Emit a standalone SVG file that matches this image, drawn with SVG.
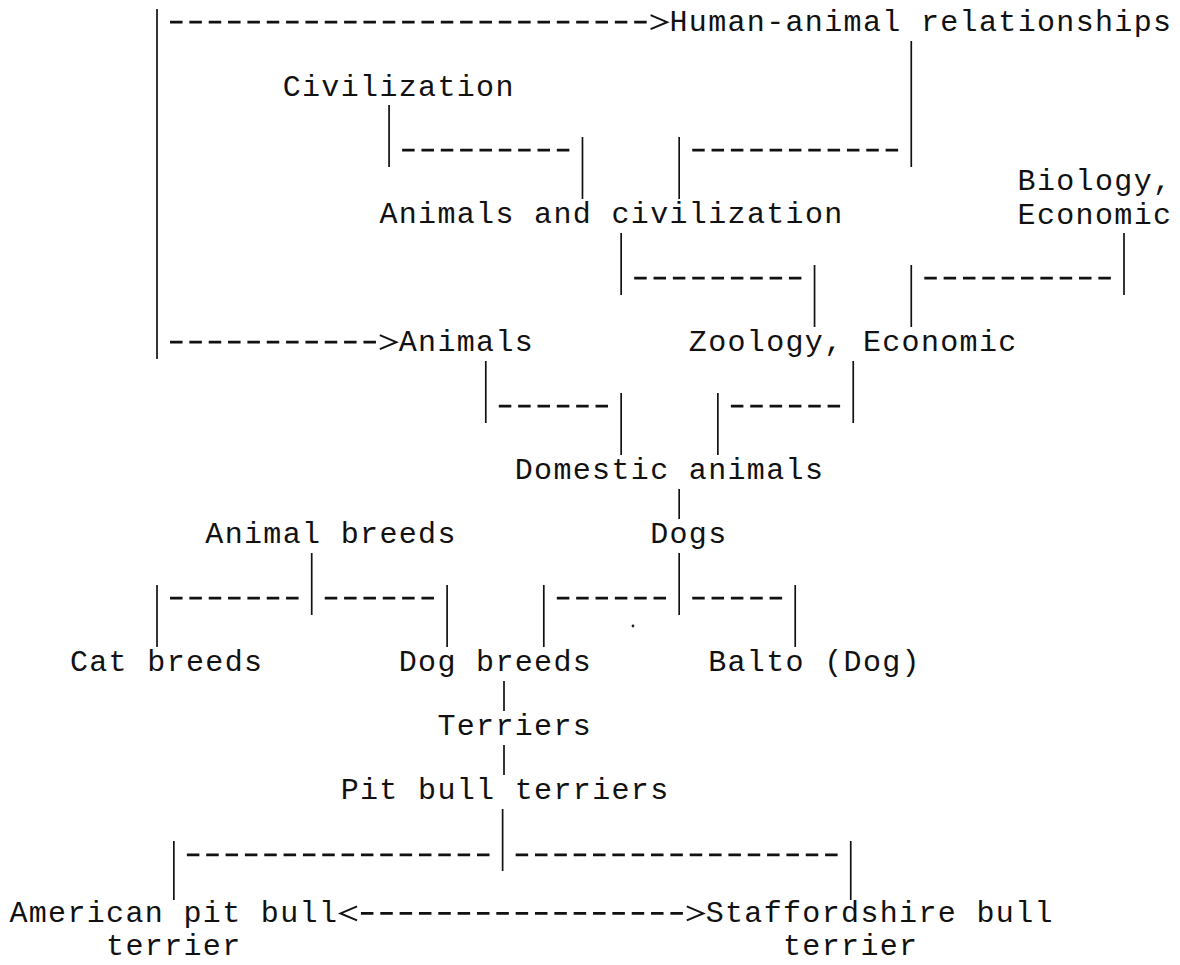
<svg xmlns="http://www.w3.org/2000/svg" width="1180" height="965" viewBox="0 0 1180 965">
<style>
  .t { font-family: "Liberation Mono", "DejaVu Sans Mono", monospace; font-size: 30px; letter-spacing: 1.34px; fill: #111; }
  .bar { stroke: #111; stroke-width: 1.7; fill: none; }
  .dash { stroke: #111; stroke-width: 2.8; stroke-dasharray: 12.5 6.84; fill: none; }
  .arr { marker-end: url(#chev); }
  .arr2 { marker-start: url(#chev); marker-end: url(#chev); }
</style>
<defs>
  <marker id="chev" markerUnits="userSpaceOnUse" viewBox="0 -10 24 20" refX="0" refY="0" markerWidth="24" markerHeight="20" orient="auto-start-reverse" overflow="visible">
    <polyline points="3.9,-7 20.4,0 3.9,7" fill="none" stroke="#111" stroke-width="2"/>
  </marker>
</defs>
<rect width="1180" height="965" fill="#fff"/>

<g id="connectors">
  <!-- vertical bars -->
  <line class="bar" x1="157" y1="9" x2="157" y2="359"/>
  <line class="bar" x1="911.26" y1="41" x2="911.26" y2="167"/>
  <line class="bar" x1="389.08" y1="105" x2="389.08" y2="167"/>
  <line class="bar" x1="582.48" y1="137" x2="582.48" y2="199"/>
  <line class="bar" x1="679.18" y1="137" x2="679.18" y2="199"/>
  <line class="bar" x1="621.16" y1="233" x2="621.16" y2="295"/>
  <line class="bar" x1="814.56" y1="265" x2="814.56" y2="327"/>
  <line class="bar" x1="911.26" y1="265" x2="911.26" y2="327"/>
  <line class="bar" x1="1124" y1="233" x2="1124" y2="295"/>
  <line class="bar" x1="485.78" y1="361" x2="485.78" y2="423"/>
  <line class="bar" x1="621.16" y1="393" x2="621.16" y2="455"/>
  <line class="bar" x1="717.86" y1="393" x2="717.86" y2="455"/>
  <line class="bar" x1="853.24" y1="361" x2="853.24" y2="423"/>
  <line class="bar" x1="679.18" y1="489" x2="679.18" y2="519"/>
  <line class="bar" x1="679.18" y1="553" x2="679.18" y2="615"/>
  <line class="bar" x1="311.72" y1="553" x2="311.72" y2="615"/>
  <line class="bar" x1="157" y1="585" x2="157" y2="647"/>
  <line class="bar" x1="447.1" y1="585" x2="447.1" y2="647"/>
  <line class="bar" x1="543.8" y1="585" x2="543.8" y2="647"/>
  <line class="bar" x1="795.22" y1="585" x2="795.22" y2="647"/>
  <line class="bar" x1="504" y1="681" x2="504" y2="711"/>
  <line class="bar" x1="504" y1="745" x2="504" y2="775"/>
  <line class="bar" x1="502.62" y1="809" x2="502.62" y2="871"/>
  <line class="bar" x1="173.84" y1="841" x2="173.84" y2="900"/>
  <line class="bar" x1="850.74" y1="841" x2="850.74" y2="900"/>
  <!-- dashed runs -->
  <line class="dash arr" x1="170.04" y1="22.2" x2="646.7" y2="22.2"/>
  <line class="dash" x1="402.12" y1="150.2" x2="569.34" y2="150.2"/>
  <line class="dash" x1="692.22" y1="150.2" x2="898.12" y2="150.2"/>
  <line class="dash" x1="634.2" y1="278.2" x2="801.42" y2="278.2"/>
  <line class="dash" x1="924.3" y1="278.2" x2="1110.86" y2="278.2"/>
  <line class="dash arr" x1="170.04" y1="342.2" x2="375.94" y2="342.2"/>
  <line class="dash" x1="498.82" y1="406.2" x2="608.02" y2="406.2"/>
  <line class="dash" x1="730.9" y1="406.2" x2="840.1" y2="406.2"/>
  <line class="dash" x1="170.04" y1="598.2" x2="298.58" y2="598.2"/>
  <line class="dash" x1="324.76" y1="598.2" x2="433.96" y2="598.2"/>
  <line class="dash" x1="556.84" y1="598.2" x2="666.04" y2="598.2"/>
  <line class="dash" x1="692.22" y1="598.2" x2="782.08" y2="598.2"/>
  <line class="dash" x1="186.88" y1="854.8" x2="489.48" y2="854.8"/>
  <line class="dash" x1="515.66" y1="854.8" x2="837.6" y2="854.8"/>
  <line class="dash arr2" x1="360.94" y1="913.4" x2="682.88" y2="913.4"/>
</g>

<g id="n-human-animal-relationships"><text class="t" x="669.48" y="31">Human-animal relationships</text></g>
<g id="n-civilization"><text class="t" x="282.68" y="96">Civilization</text></g>
<g id="n-biology-economic"><text class="t" x="1017.6" y="190">Biology,</text><text class="t" x="1017.6" y="224">Economic</text></g>
<g id="n-animals-and-civilization"><text class="t" x="379.38" y="223">Animals and civilization</text></g>
<g id="n-animals"><text class="t" x="398.72" y="351">Animals</text></g>
<g id="n-zoology-economic"><text class="t" x="688.82" y="351">Zoology, Economic</text></g>
<g id="n-domestic-animals"><text class="t" x="514.76" y="479">Domestic animals</text></g>
<g id="n-animal-breeds"><text class="t" x="205.32" y="543">Animal breeds</text></g>
<g id="n-dogs"><text class="t" x="650.14" y="543">Dogs</text></g>
<g id="n-cat-breeds"><text class="t" x="69.94" y="671">Cat breeds</text></g>
<g id="n-dog-breeds"><text class="t" x="398.72" y="671">Dog breeds</text></g>
<g id="n-balto"><text class="t" x="708.16" y="671">Balto (Dog)</text></g>
<g id="n-terriers"><text class="t" x="437.4" y="735">Terriers</text></g>
<g id="n-pit-bull-terriers"><text class="t" x="340.7" y="799">Pit bull terriers</text></g>
<g id="n-american-pit-bull-terrier"><text class="t" x="9.42" y="922">American pit bull</text><text class="t" x="106.12" y="955">terrier</text></g>
<g id="n-staffordshire-bull-terrier"><text class="t" x="705.66" y="922">Staffordshire bull</text><text class="t" x="783.02" y="955">terrier</text></g>

<circle cx="633" cy="626" r="1.4" fill="#222"/>
</svg>
